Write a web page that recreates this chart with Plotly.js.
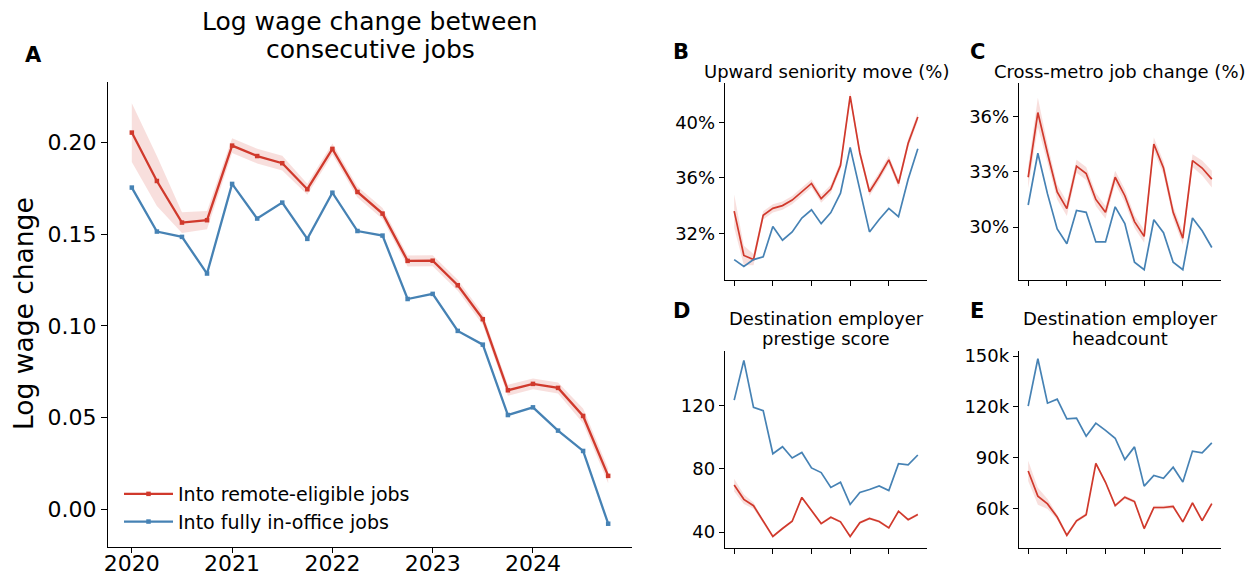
<!DOCTYPE html>
<html>
<head>
<meta charset="utf-8">
<script src="https://cdn.plot.ly/plotly-3.0.1.min.js"></script>
<style>html,body{margin:0;padding:0;background:#fff;}#chart{width:1253px;height:578px;}</style>
</head>
<body>
<div id="chart"></div>
<script>
// ---------- data ----------
const quarters = [2020, 2020.25, 2020.5, 2020.75, 2021, 2021.25, 2021.5, 2021.75,
  2022, 2022.25, 2022.5, 2022.75, 2023, 2023.25, 2023.5, 2023.75,
  2024, 2024.25, 2024.5, 2024.75];
const yearTicks = [2020, 2021, 2022, 2023, 2024];
const seriesNames = ["Into remote-eligible jobs", "Into fully in-office jobs"];

// Panel A: log wage change
const remoteWage = [0.2055, 0.1791, 0.1564, 0.1577, 0.1984, 0.1927, 0.1888, 0.1746, 0.1966, 0.1731,
  0.1613, 0.1355, 0.1356, 0.1222, 0.1037, 0.0649, 0.0684, 0.0662, 0.0509, 0.0182];
const remoteWageCI = [0.016, 0.0136, 0.0057, 0.005, 0.004, 0.004, 0.004, 0.003, 0.003, 0.003,
  0.003, 0.003, 0.003, 0.003, 0.003, 0.003, 0.003, 0.003, 0.004, 0.004];
const officeWage = [0.1755, 0.1515, 0.1486, 0.1286, 0.1775, 0.1586, 0.1673, 0.1475, 0.1727, 0.1518,
  0.1493, 0.1147, 0.1175, 0.0973, 0.0898, 0.0514, 0.0556, 0.0429, 0.0318, -0.0079];

// Panel B: upward seniority move (%)
const remoteSeniority = [33.6, 30.4, 30.1, 33.3, 33.8, 34.0, 34.4, 35.0, 35.6, 34.5,
  35.2, 36.9, 41.9, 37.8, 35.0, 36.1, 37.3, 35.6, 38.5, 40.4];
const remoteSeniorityCI = [1.2, 0.7, 0.4, 0.3, 0.3, 0.3, 0.3, 0.3, 0.3, 0.3,
  0.3, 0.3, 0.3, 0.3, 0.3, 0.3, 0.3, 0.3, 0.3, 0.3];
const officeSeniority = [30.1, 29.6, 30.1, 30.3, 32.5, 31.5, 32.1, 33.1, 33.7, 32.7,
  33.5, 34.9, 38.2, 35.1, 32.1, 33.0, 33.8, 33.2, 35.9, 38.1];

// Panel C: cross-metro job change (%)
const remoteMetro = [32.7, 36.2, 34.0, 31.9, 31.0, 33.3, 32.9, 31.5, 30.8, 32.7,
  31.7, 30.3, 29.5, 34.5, 33.2, 30.8, 29.4, 33.6, 33.2, 32.6];
const remoteMetroCI = [0.6, 0.8, 0.5, 0.4, 0.4, 0.35, 0.35, 0.35, 0.35, 0.35,
  0.35, 0.35, 0.35, 0.35, 0.35, 0.35, 0.35, 0.35, 0.4, 0.45];
const officeMetro = [31.2, 34.0, 31.8, 29.9, 29.1, 30.9, 30.8, 29.2, 29.2, 31.1,
  30.2, 28.1, 27.7, 30.4, 29.7, 28.1, 27.7, 30.5, 29.8, 28.9];

// Panel D: destination employer prestige score
const remotePrestige = [69.7, 60.7, 56.7, 46.7, 37.3, 42.3, 46.9, 61.9, 53.8, 45.4,
  49.4, 46.5, 37.3, 46.0, 48.6, 46.7, 42.7, 53.2, 47.9, 51.1];
const remotePrestigeCI = [4.0, 3.0, 2.0, 1.0, 0.8, 0.8, 0.8, 0.8, 0.8, 0.8,
  0.8, 0.8, 0.8, 0.8, 0.8, 0.8, 0.8, 0.8, 0.8, 0.8];
const officePrestige = [123.3, 148.4, 118.7, 116.7, 89.5, 93.9, 86.8, 90.3, 80.5, 77.6,
  68.2, 71.5, 57.5, 65.1, 66.9, 69.2, 66.3, 83.2, 82.4, 88.7];

// Panel E: destination employer headcount (thousands)
const remoteHeadcount = [82.2, 67.3, 62.7, 55.0, 44.2, 52.7, 56.4, 86.6, 75.5, 61.7,
  66.7, 64.1, 48.2, 60.6, 60.6, 61.2, 52.1, 63.3, 52.9, 62.9];
const remoteHeadcountCI = [6.0, 5.0, 3.0, 1.5, 1.0, 1.0, 1.0, 1.0, 1.0, 1.0,
  1.0, 1.0, 1.0, 1.0, 1.0, 1.0, 1.0, 1.0, 1.0, 1.0];
const officeHeadcount = [120.5, 148.4, 122.2, 124.6, 113.0, 113.4, 102.7, 110.4, 106.1, 101.5,
  88.9, 96.4, 73.2, 79.5, 77.9, 84.4, 75.7, 93.9, 92.9, 98.8];

// ---------- styling ----------
const RED = '#d0392c';
const BLUE = '#4682b4';
const BAND = 'rgba(214,64,52,0.17)';
const FONT = 'DejaVu Sans, sans-serif';
const W = 1253, H = 578;
const px = v => v / W;
const py = v => 1 - v / H;

function band(x, y, ci, xa, ya) {
  const lo = y.map((v, i) => v - ci[i]);
  const hi = y.map((v, i) => v + ci[i]);
  return [
    {x: x, y: lo, xaxis: xa, yaxis: ya, mode: 'lines', line: {width: 0, color: 'rgba(0,0,0,0)'},
     showlegend: false, hoverinfo: 'skip'},
    {x: x, y: hi, xaxis: xa, yaxis: ya, mode: 'lines', line: {width: 0, color: 'rgba(0,0,0,0)'},
     fill: 'tonexty', fillcolor: BAND, showlegend: false, hoverinfo: 'skip'}
  ];
}

const traces = [];
// Panel A
traces.push(...band(quarters, remoteWage, remoteWageCI, 'x', 'y'));
traces.push({x: quarters, y: remoteWage, xaxis: 'x', yaxis: 'y', mode: 'lines+markers', name: seriesNames[0],
  line: {color: RED, width: 2.3}, marker: {symbol: 'square', size: 4.5, color: RED}});
traces.push({x: quarters, y: officeWage, xaxis: 'x', yaxis: 'y', mode: 'lines+markers', name: seriesNames[1],
  line: {color: BLUE, width: 2.3}, marker: {symbol: 'square', size: 4.5, color: BLUE}});

const small = [
  ['x2', 'y2', remoteSeniority, remoteSeniorityCI, officeSeniority],
  ['x3', 'y3', remoteMetro, remoteMetroCI, officeMetro],
  ['x4', 'y4', remotePrestige, remotePrestigeCI, officePrestige],
  ['x5', 'y5', remoteHeadcount, remoteHeadcountCI, officeHeadcount]
];
small.forEach(([xa, ya, r, rci, o]) => {
  traces.push(...band(quarters, r, rci, xa, ya));
  traces.push({x: quarters, y: r, xaxis: xa, yaxis: ya, mode: 'lines', showlegend: false,
    line: {color: RED, width: 1.7}});
  traces.push({x: quarters, y: o, xaxis: xa, yaxis: ya, mode: 'lines', showlegend: false,
    line: {color: BLUE, width: 1.7}});
});

const xRange = [2019.7625, 2024.9875];
function xAxis(x0, x1, yAnchor, big) {
  return {
    domain: [px(x0), px(x1)], anchor: yAnchor, range: xRange,
    tickmode: 'array', tickvals: yearTicks, ticktext: yearTicks.map(String),
    showticklabels: big, ticks: 'outside', ticklen: big ? 5 : 5, tickwidth: 1, tickcolor: '#000',
    ticklabelstandoff: big ? -9 : 0,
    showline: true, linecolor: '#000', linewidth: 1.2, showgrid: false, zeroline: false,
    tickfont: {family: FONT, size: 22, color: '#000'}
  };
}
function yAxis(y0, y1, xAnchor, range, tickvals, ticktext, size) {
  return {
    domain: [py(y1), py(y0)], anchor: xAnchor, range: range,
    tickmode: 'array', tickvals: tickvals, ticktext: ticktext,
    ticks: 'outside', ticklen: size > 20 ? 6 : 5, tickwidth: 1, tickcolor: '#000',
    showline: true, linecolor: '#000', linewidth: 1.2, showgrid: false, zeroline: false,
    tickfont: {family: FONT, size: size, color: '#000'}
  };
}

const layout = {
  width: W, height: H, margin: {l: 0, r: 0, t: 0, b: 0},
  paper_bgcolor: '#fff', plot_bgcolor: '#fff',
  font: {family: FONT, color: '#000'},
  showlegend: true,
  legend: {x: px(119), y: py(475), xanchor: 'left', yanchor: 'top', bgcolor: 'rgba(0,0,0,0)',
    traceorder: 'normal',
    font: {family: FONT, size: 19, color: '#000'}, itemwidth: 49, tracegroupgap: 0},
  xaxis: xAxis(108, 632, 'y', true),
  yaxis: yAxis(82, 547, 'x', [-0.0206, 0.2331], [0, 0.05, 0.10, 0.15, 0.20], ['0.00', '0.05', '0.10', '0.15', '0.20'], 22),
  xaxis2: xAxis(725, 927, 'y2', false),
  yaxis2: yAxis(83, 280, 'x2', [28.63, 42.85], [32, 36, 40], ['32%', '36%', '40%'], 18),
  xaxis3: xAxis(1019, 1221, 'y3', false),
  yaxis3: yAxis(83, 280, 'x3', [27.14, 37.8], [30, 33, 36], ['30%', '33%', '36%'], 18),
  xaxis4: xAxis(725, 927, 'y4', false),
  yaxis4: yAxis(351, 548, 'x4', [30.0, 154.3], [40, 80, 120], ['40', '80', '120'], 18),
  xaxis5: xAxis(1019, 1221, 'y5', false),
  yaxis5: yAxis(351, 548, 'x5', [36.7, 153], [60, 90, 120, 150], ['60k', '90k', '120k', '150k'], 18),
  annotations: []
};

function txt(x, y, text, size, opts) {
  return Object.assign({xref: 'paper', yref: 'paper', x: px(x), y: py(y), text: text, showarrow: false,
    xanchor: 'center', yanchor: 'middle', font: {family: FONT, size: size, color: '#000'}}, opts || {});
}
layout.annotations.push(
  txt(370, 21, 'Log wage change between', 25),
  txt(370, 50, 'consecutive jobs', 25),
  txt(33, 55, '<b>A</b>', 21),
  txt(23, 314, 'Log wage change', 26.5, {textangle: -90}),
  txt(681, 52, '<b>B</b>', 21),
  txt(826, 71, 'Upward seniority move (%)', 18),
  txt(977, 52, '<b>C</b>', 21),
  txt(1120, 71, 'Cross-metro job change (%)', 18),
  txt(681, 311, '<b>D</b>', 21),
  txt(826, 318, 'Destination employer', 18),
  txt(826, 338, 'prestige score', 18),
  txt(977, 311, '<b>E</b>', 21),
  txt(1120, 318, 'Destination employer', 18),
  txt(1120, 338, 'headcount', 18)
);

Plotly.newPlot('chart', traces, layout, {displayModeBar: false, staticPlot: true});
</script>
</body>
</html>
